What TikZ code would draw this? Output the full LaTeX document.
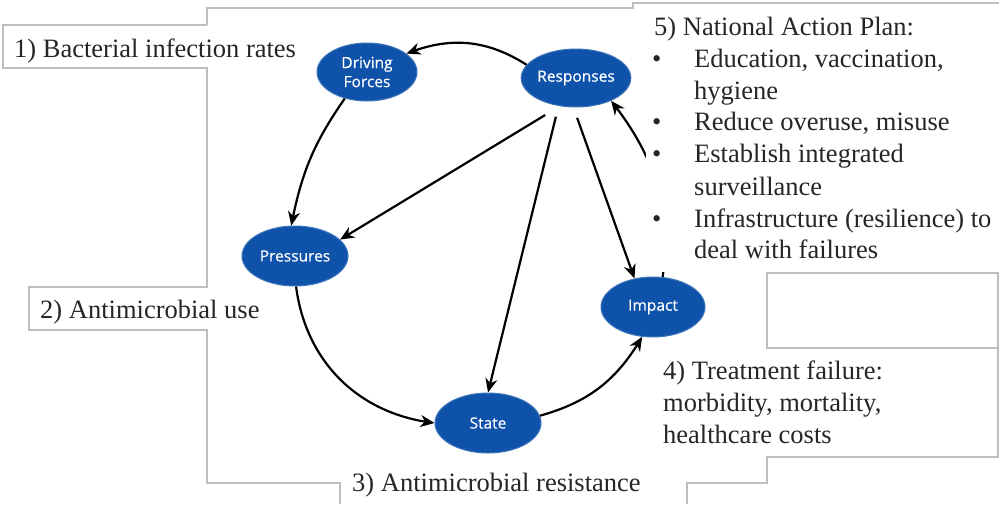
\documentclass[tikz,border=0pt]{standalone}
\usepackage{fontspec}
\setmainfont{Liberation Serif}
\newfontfamily\bubfont[FakeBold=0.4]{Open Sans}
\usetikzlibrary{shapes.geometric,arrows.meta,bending}
\definecolor{bubblue}{RGB}{14,82,170}
\definecolor{edgegray}{RGB}{190,190,190}
\begin{document}
\begin{tikzpicture}[x=1pt,y=1pt,
  bub/.style={ellipse, fill=bubblue, draw=bubblue!80!white, line width=1pt, inner sep=0pt, text=white, font=\bubfont\fontsize{15.5}{20}\selectfont, align=center},
  arr/.style={line width=2.2pt, -{Stealth[length=14pt,width=12pt,inset=4.5pt]}},
  outl/.style={draw=edgegray, line width=1.3pt},
  lbl/.style={anchor=base west, inner sep=0pt, font=\fontsize{26.5}{32}\selectfont, text=black!85}]
\fill[white] (0,0) rectangle (999,-504);
\useasboundingbox (0,0) rectangle (999,-504);

% ellipses
\node[bub, minimum width=100pt, minimum height=58pt] (drv) at (367,-72) {Driving\\[-1pt]Forces};
\node[bub, minimum width=100pt, minimum height=58pt] (resp) at (576,-78) {Responses};
\node[bub, minimum width=106pt, minimum height=60pt] (pres) at (295,-256) {Pressures};
\node[bub, minimum width=104pt, minimum height=60pt] (imp) at (653,-307) {Impact};
\node[bub, minimum width=106pt, minimum height=60pt] (state) at (488,-423) {State};

% connectors
\draw[arr] (resp.165) to[bend right=27] (drv.25);
\draw[arr] (drv.230) to[bend right=12] (pres.97);
\draw[arr] (pres.272) to[bend right=38] (state.180);
\draw[arr] (state.8) to[bend right=22] (imp.250);
\draw[arr] (imp.72) to[bend right=22] (resp.-33);
\draw[arr, shorten <=17pt] (resp.240) -- (pres.20);
\draw[arr, shorten <=11pt] (resp.238) -- (state.north);
\draw[arr, shorten <=11pt] (resp.265) -- (imp.123);

% white text panel covering part of the scan
\fill[white] (646,-3) rectangle (999,-272);

% panel outlines
\draw[outl] (207,-25) -- (207,-8) -- (633,-8) -- (633,-3) -- (999,-3);
\draw[outl] (207,-25) -- (3,-25) -- (3,-68) -- (207,-68) -- (207,-287) -- (29,-287) -- (29,-330) -- (207,-330) -- (207,-483) -- (340,-483) -- (340,-504);
\draw[outl] (687,-504) -- (687,-483) -- (767,-483) -- (767,-457) -- (998,-457) -- (998,-273) -- (767,-273) -- (767,-348) -- (998,-348);

% labels
\node[lbl] (t1) at (14,-57) {1) Bacterial infection rates};
\node[lbl] (t2) at (40,-318) {2) Antimicrobial use};
\node[lbl] (t3) at (352,-491) {3) Antimicrobial resistance};
\node[lbl] (t4a) at (663,-379) {4) Treatment failure:};
\node[lbl] (t4b) at (663,-411) {morbidity, mortality,};
\node[lbl] (t4c) at (663,-443) {healthcare costs};
\node[lbl] (t5) at (654,-35) {5) National Action Plan:};
\node[lbl] (b1) at (652,-67) {\textbullet};
\node[lbl] (t5a) at (694,-67) {Education, vaccination,};
\node[lbl] (t5b) at (694,-99) {hygiene};
\node[lbl] (b2) at (652,-130) {\textbullet};
\node[lbl] (t5c) at (694,-130) {Reduce overuse, misuse};
\node[lbl] (b3) at (652,-162) {\textbullet};
\node[lbl] (t5d) at (694,-162) {Establish integrated};
\node[lbl] (t5e) at (694,-195) {surveillance};
\node[lbl] (b4) at (652,-227) {\textbullet};
\node[lbl] (t5f) at (694,-227) {Infrastructure (resilience) to};
\node[lbl] (t5g) at (694,-258) {deal with failures};
\end{tikzpicture}
\end{document}
